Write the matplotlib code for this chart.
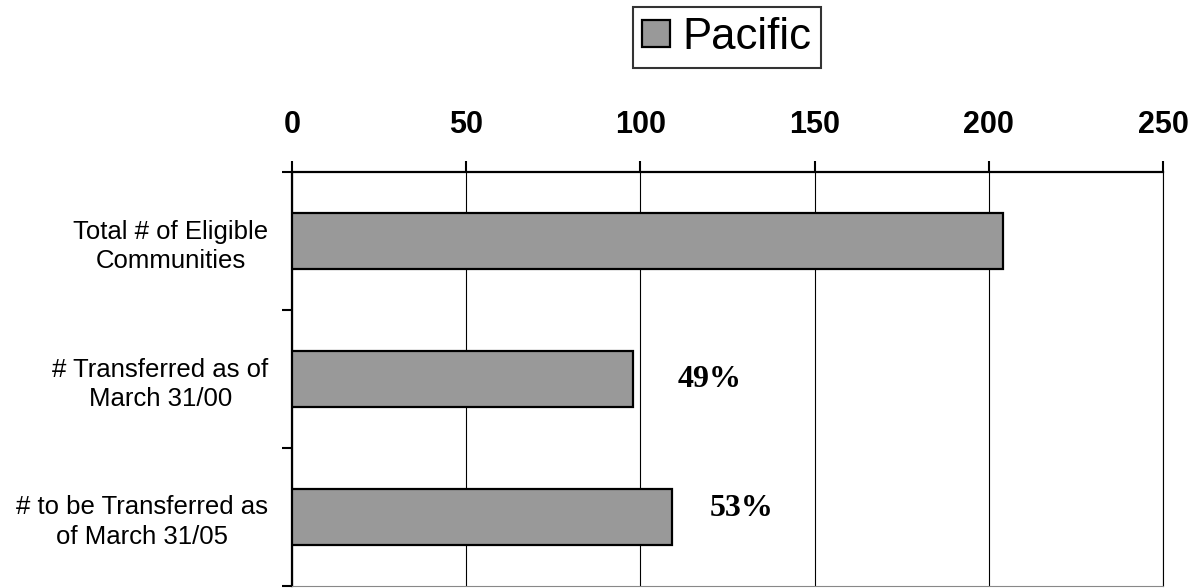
import matplotlib
matplotlib.use("Agg")
import matplotlib.pyplot as plt

# data
categories = ["Total # of Eligible\nCommunities",
              "# Transferred as of\nMarch 31/00",
              "# to be Transferred as\nof March 31/05"]
pacific = [204, 98, 109]
pct_labels = ["", "49%", "53%"]
pct_x = [0, 120, 129]
x_ticks = [0, 50, 100, 150, 200, 250]

plt.rcParams['font.family'] = ['Liberation Sans', 'DejaVu Sans']

fig = plt.figure(figsize=(12.01, 5.88), dpi=100)
W, H = 1201, 588
ax = fig.add_axes([292 / W, 2 / H, (1163 - 292) / W, (586 - 172) / H])

ypos = list(range(len(categories)))
ax.barh(ypos, pacific, height=0.41, color='#999999', edgecolor='black',
        linewidth=1.6, label='Pacific', zorder=3)

ax.set_xlim(0, 250)
ax.set_ylim(2.5, -0.5)

# value axis on top
ax.xaxis.tick_top()
ax.set_xticks(x_ticks)
ax.set_xticklabels([str(t) for t in x_ticks], fontsize=22, fontweight='bold')
ax.tick_params(axis='x', direction='out', length=8, width=1.5, pad=15, color='black')
ax.grid(axis='x', color='black', linewidth=0.8, zorder=0)

# category axis: ticks at boundaries, labels centred on bars
ax.set_yticks([-0.5, 0.5, 1.5, 2.5])
ax.set_yticklabels([])
ax.tick_params(axis='y', which='major', direction='out', length=7, width=1.5)
ax.set_yticks(ypos, minor=True)
ax.set_yticklabels(categories, minor=True, fontsize=18.5, multialignment='center',
                   linespacing=1.3)
ax.tick_params(axis='y', which='minor', length=0, pad=17)

for s in ['top', 'left']:
    ax.spines[s].set_linewidth(1.6)
ax.spines['right'].set_linewidth(0.8)
ax.spines['bottom'].set_linewidth(0.8)
ax.spines['bottom'].set_color('#888888')

for y, x, t in zip(ypos, pct_x, pct_labels):
    if t:
        ax.text(x, y - (0.06 if y == 2 else 0.0), t, ha='center', va='center',
                fontsize=23, fontweight='bold', family='Liberation Serif')

leg = fig.legend(loc='center', bbox_to_anchor=(727 / W, 1 - 37.5 / H),
                 fontsize=31.5, frameon=True, fancybox=False, handlelength=0.62,
                 handleheight=0.55, handletextpad=0.3, borderpad=0.22,
                 borderaxespad=0)
leg.get_frame().set_edgecolor('black')
leg.get_frame().set_linewidth(1.5)

fig.savefig("out.png", dpi=100)
